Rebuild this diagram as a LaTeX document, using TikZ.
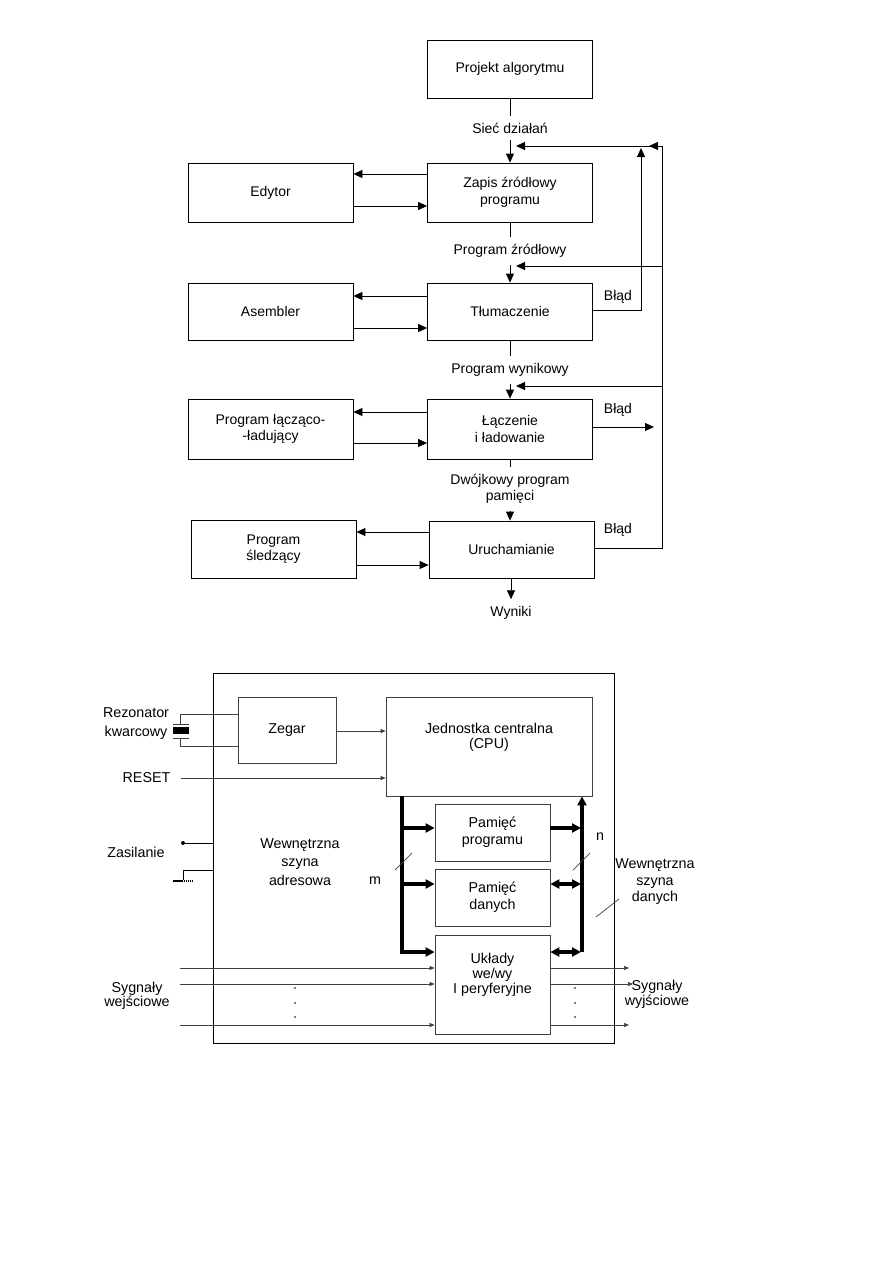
\documentclass[tikz,border=0pt]{standalone}
\usepackage{fontspec}
\setmainfont{Liberation Sans}
\usetikzlibrary{arrows.meta}
\begin{document}
\begin{tikzpicture}[x=1pt,y=-1pt,
  tf/.style={font=\fontsize{14}{16.5}\selectfont},
  bf/.style={font=\fontsize{14.3}{17}\selectfont},
  fbox/.style={draw, line width=0.8pt, minimum width=165pt, inner sep=0pt, align=center, tf},
  lbl/.style={inner xsep=0pt, inner ysep=7pt, align=center, tf},
  ln/.style={line width=0.8pt},
  arr/.style={line width=0.8pt, -{Triangle[length=9pt,width=8pt]}},
  bbox/.style={draw=black!75, line width=0.8pt, inner sep=0pt, align=center, bf},
  blbl/.style={inner sep=0pt, align=center, bf},
  thinl/.style={draw=black!75, line width=0.7pt},
  tarr/.style={thinl, -{Triangle[length=5pt,width=4pt]}},
  bus/.style={line width=3.5pt, line join=miter, -{Triangle[length=9pt,width=9pt]}},
  bus2/.style={line width=3.5pt, {Triangle[length=9pt,width=9pt]}-{Triangle[length=9pt,width=9pt]}},
]
\useasboundingbox (0,0) rectangle (893,1263);

% ---------------- top flowchart ----------------
\node[fbox, minimum height=58pt] (proj) at (510,69) {Projekt algorytmu};
\node[lbl] (sd) at (510,128) {Sieć działań};
\node[fbox, minimum height=59pt] (zapis) at (510,192.5) {Zapis źródłowy\\programu};
\node[fbox, minimum height=59pt] (edyt) at (270.5,192.5) {Edytor};
\node[lbl] (ps) at (510,251) {Program źródłowy};
\node[fbox, minimum height=57pt] (tlum) at (510,311.5) {Tłumaczenie};
\node[fbox, minimum height=57pt] (asm) at (270.5,311.5) {Asembler};
\node[lbl] (pw) at (510,370) {Program wynikowy};
\node[fbox, minimum height=60pt] (lacz) at (510,429) {Łączenie\\i ładowanie};
\node[fbox, minimum height=60pt] (plad) at (270.5,429) {Program łącząco-\\-ładujący};
\node[lbl] (dp) at (510,489) {Dwójkowy program\\pamięci};
\node[fbox, minimum height=57pt] (uru) at (511.5,549.5) {Uruchamianie};
\node[fbox, minimum height=58pt] (sled) at (273.5,549) {Program\\śledzący};
\node[lbl] (wyn) at (511,613) {Wyniki};
\node[lbl] (b1) at (618,297) {Błąd};
\node[lbl] (b2) at (618,410) {Błąd};
\node[lbl] (b3) at (618,530) {Błąd};

\draw[ln] (proj) -- (sd);
\draw[arr] (sd) -- (zapis);
\draw[ln] (zapis) -- (ps);
\draw[arr] (ps) -- (tlum);
\draw[ln] (tlum) -- (pw);
\draw[arr] (pw) -- (lacz);
\draw[ln] (lacz) -- (dp);
\draw[arr] (dp.south) -- (dp.south |- uru.north);
\draw[arr] (uru.south -| wyn.north) -- (wyn.north);

\draw[arr] (zapis.west |- 0,174) -- (edyt.east |- 0,174);
\draw[arr] (edyt.east |- 0,206) -- (zapis.west |- 0,206);
\draw[arr] (tlum.west |- 0,296) -- (asm.east |- 0,296);
\draw[arr] (asm.east |- 0,328) -- (tlum.west |- 0,328);
\draw[arr] (lacz.west |- 0,412) -- (plad.east |- 0,412);
\draw[arr] (plad.east |- 0,443) -- (lacz.west |- 0,443);
\draw[arr] (uru.west |- 0,532) -- (sled.east |- 0,532);
\draw[arr] (sled.east |- 0,565) -- (uru.west |- 0,565);

\coordinate (r1) at (662,146);
\coordinate (r2) at (662,266);
\coordinate (r3) at (662,386);
\coordinate (r4) at (662,548);
\coordinate (e1) at (641,310);
\coordinate (e1t) at (641,148);
\coordinate (e2) at (654,427);
\draw[ln] (uru.east |- r4) -- (r4) -- (r1);
\draw[arr, shorten >=6pt] (r1) -- (zapis.north |- r1);
\draw[arr] (r1) -- ++(-13,0);
\draw[arr, shorten >=6pt] (r2) -- (tlum.north |- r2);
\draw[arr, shorten >=6pt] (r3) -- (lacz.north |- r3);
\draw[arr] (tlum.east |- e1) -- (e1) -- (e1t);
\draw[arr] (lacz.east |- e2) -- (e2);

% ---------------- bottom block diagram ----------------
\node[draw, line width=0.9pt, minimum width=401pt, minimum height=370pt, inner sep=0pt] (outer) at (413.5,858) {};
\node[bbox, minimum width=98pt, minimum height=66pt] (zeg) at (287,730) {Zegar};
\node[bbox, minimum width=206pt, minimum height=99pt] (cpu) at (489,746.5) {};
\node[blbl, font=\fontsize{14.3}{15.5}\selectfont] (cput) at (489,737.5) {Jednostka centralna\\(CPU)};
\node[bbox, minimum width=115pt, minimum height=57pt] (pp) at (492.5,832.5) {Pamięć\\programu};
\node[bbox, minimum width=115pt, minimum height=57pt] (pd) at (492.5,897.5) {Pamięć\\danych};
\node[bbox, minimum width=115pt, minimum height=99pt] (ukl) at (492.5,984.5) {};
\node[blbl, font=\fontsize{14.3}{14.8}\selectfont] (uklt) at (492.5,975) {Układy\\we/wy\\I peryferyjne};

\node[blbl, font=\fontsize{14.3}{19}\selectfont] (rez) at (136,723.5) {Rezonator\\kwarcowy};
\node[blbl] (reset) at (146.5,778) {RESET};
\node[blbl] (zas) at (136,852) {Zasilanie};
\node[blbl, font=\fontsize{14.3}{18.5}\selectfont] (wsa) at (300,862) {Wewnętrzna\\szyna\\adresowa};
\node[blbl] (m) at (375,881) {m};
\node[blbl] (n) at (600,837) {n};
\node[blbl, font=\fontsize{14.3}{16.5}\selectfont] (wsd) at (655,882) {Wewnętrzna\\szyna\\danych};
\node[blbl, font=\fontsize{14.3}{14.5}\selectfont] (swe) at (137,996) {Sygnały\\wejściowe};
\node[blbl, font=\fontsize{14.3}{15}\selectfont] (swy) at (657,994) {Sygnały\\wyjściowe};

% clock and reset
\draw[tarr] (zeg.east |- 0,731) -- (cpu.west |- 0,731);
\draw[tarr, shorten <=10pt] (reset.east) -- (cpu.west |- reset.east);

% crystal
\draw[thinl] (zeg.west |- 0,714) -- (180,714) -- (180,724);
\draw[thinl] (zeg.west |- 0,746) -- (180,746) -- (180,738);
\draw[thinl] (173,724) -- (189,724);
\draw[thinl] (173,738) -- (189,738);
\fill (173,727) rectangle (189,734);

% power
\coordinate (vcc) at (183,843);
\fill (vcc) circle (2pt);
\draw[line width=0.8pt] (vcc) -- (outer.west |- vcc);
\coordinate (gnd) at (183,880);
\draw[line width=0.8pt] (outer.west |- 0,870) -- (183,870) -- (gnd);
\draw[line width=2.2pt, dash pattern=on 1.6pt off 0.5pt] (173,881) -- (193,881);

% buses
\coordinate (a1) at (402,828);
\coordinate (a2) at (402,884);
\coordinate (a3) at (402,952);
\coordinate (d0) at (582,952);
\coordinate (d1) at (581,828);
\coordinate (d2) at (581,884);
\coordinate (d3) at (581,952);
\draw[bus] (cpu.south -| a3) -- (a3) -- (ukl.west |- a3);
\draw[bus] (a1) -- (pp.west |- a1);
\draw[bus] (a2) -- (pd.west |- a2);
\draw[bus] (d0) -- (cpu.south -| d0);
\draw[bus] (pp.east |- d1) -- (d1);
\draw[bus2] (pd.east |- d2) -- (d2);
\draw[bus2] (ukl.east |- d3) -- (d3);

% slashes
\draw[thinl] (395,870) -- (412,853);
\draw[thinl] (573,870) -- (590,853);
\draw[thinl] (596,917) -- (619,899);

% I/O signals
\foreach \y in {968,984,1025} {
  \draw[tarr] (180,\y) -- (ukl.west |- 0,\y);
}
\draw[tarr] (ukl.east |- 0,968) -- (629,968);
\draw[tarr] (ukl.east |- 0,984) -- (633,984);
\draw[tarr] (ukl.east |- 0,1025) -- (629,1025);
\foreach \y in {988,1003,1017} {
  \fill (295,\y) circle (0.8pt);
  \fill (575,\y) circle (0.8pt);
}
\end{tikzpicture}
\end{document}
